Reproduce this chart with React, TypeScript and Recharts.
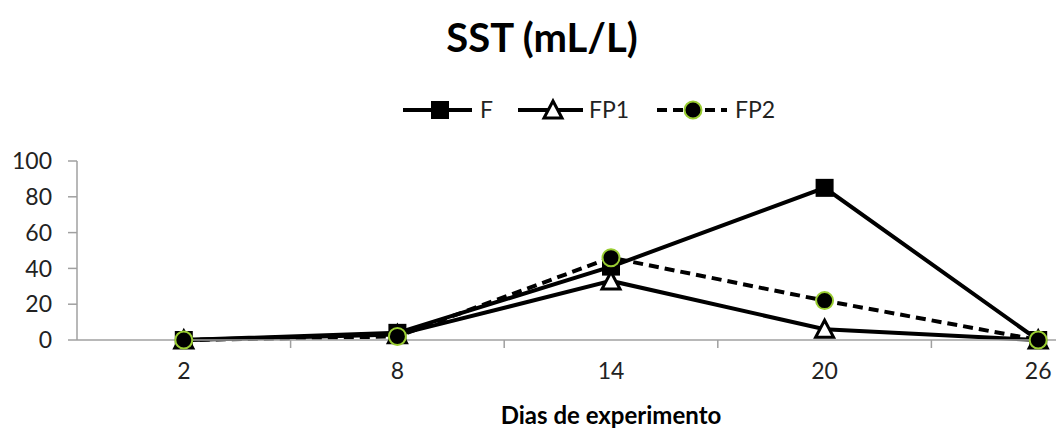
import React from 'react';
import { LineChart, Line, XAxis, YAxis, Legend } from 'recharts';

const DAYS = [2, 8, 14, 20, 26];
const F = [0, 4, 41, 85, 0];
const FP1 = [0, 3, 33, 6, 0];
const FP2 = [0, 2, 46, 22, 0];
const Y_TICKS = [0, 20, 40, 60, 80, 100];
const X_TICKS = [2, 5, 8, 11, 14, 17, 20, 23, 26];

const data = DAYS.map((d, i) => ({ day: d, F: F[i], FP1: FP1[i], FP2: FP2[i] }));

const FONT = 'Lato, "Open Sans", sans-serif';
const AXIS = '#A0A0A0';
const GREEN = '#9ACD32';

const Square = ({ cx, cy }: any) => <rect x={cx - 9} y={cy - 9} width={18} height={18} fill="#000" />;
const Triangle = ({ cx, cy }: any) => (
    <polygon points={`${cx},${cy - 9} ${cx + 9},${cy + 8} ${cx - 9},${cy + 8}`} fill="#fff" stroke="#000" strokeWidth={3} />
);
const Dot = ({ cx, cy }: any) => <circle cx={cx} cy={cy} r={8.5} fill="#000" stroke={GREEN} strokeWidth={2} />;

// labels sit at the category centres, tick marks at the boundaries between them
const XTick = ({ x, y, payload }: any) => {
    if (DAYS.includes(payload.value)) {
        return (
            <text x={x} y={y + 39} textAnchor="middle" fontSize={23} fill="#222" fontFamily={FONT}>
                {payload.value}
            </text>
        );
    }
    return <line x1={x} x2={x} y1={y} y2={y + 8} stroke={AXIS} strokeWidth={1.5} />;
};

const LegendContent = () => (
    <svg width={1056} height={34} style={{ display: 'block' }}>
        <g fontFamily={FONT} fontSize={23} fill="#222">
            <line x1={403} x2={472} y1={17} y2={17} stroke="#000" strokeWidth={4} />
            <Square cx={440} cy={17} />
            <text x={480} y={25}>F</text>
            <line x1={518} x2={583} y1={17} y2={17} stroke="#000" strokeWidth={4} />
            <Triangle cx={553} cy={17} />
            <text x={589} y={25}>FP1</text>
            <line x1={657} x2={727} y1={17} y2={17} stroke="#000" strokeWidth={4} strokeDasharray="10 6" />
            <Dot cx={693} cy={17} />
            <text x={735} y={25}>FP2</text>
        </g>
    </svg>
);

export default function App() {
    return (
        <div style={{ position: 'absolute', left: 0, top: 0, width: 1056, height: 428, overflow: 'hidden', background: '#fff' }}>
            <div style={{ position: 'absolute', left: 0, top: 9, width: 1084, textAlign: 'center', fontFamily: FONT, fontWeight: 700, fontSize: 40, color: '#000', lineHeight: '56px' }}>
                SST (mL/L)
            </div>
            <LineChart width={1160} height={428} data={data} margin={{ top: 161, right: 15, bottom: 0, left: 0 }}>
                <XAxis
                    dataKey="day"
                    type="number"
                    domain={[-1, 29]}
                    ticks={X_TICKS}
                    interval={0}
                    tickLine={false}
                    tickSize={0}
                    tickMargin={0}
                    tick={<XTick />}
                    height={88}
                    axisLine={{ stroke: AXIS, strokeWidth: 1.5 }}
                    label={{ value: 'Dias de experimento', position: 'insideBottom', offset: 4, fontFamily: FONT, fontWeight: 700, fontSize: 24, fill: '#000' }}
                />
                <YAxis
                    domain={[0, 100]}
                    ticks={Y_TICKS}
                    width={77}
                    tickSize={9}
                    tickMargin={16}
                    axisLine={{ stroke: AXIS, strokeWidth: 1.5 }}
                    tickLine={{ stroke: AXIS, strokeWidth: 1.5 }}
                    tick={{ fontSize: 23, fill: '#222', fontFamily: FONT }}
                />
                <Legend verticalAlign="middle" wrapperStyle={{ top: 93, left: 0 }} content={<LegendContent />} />
                <Line dataKey="F" stroke="#000" strokeWidth={4} dot={<Square />} isAnimationActive={false} />
                <Line dataKey="FP1" stroke="#000" strokeWidth={4} dot={<Triangle />} isAnimationActive={false} />
                <Line dataKey="FP2" stroke="#000" strokeWidth={4} strokeDasharray="10 6" dot={<Dot />} isAnimationActive={false} />
            </LineChart>
        </div>
    );
}
